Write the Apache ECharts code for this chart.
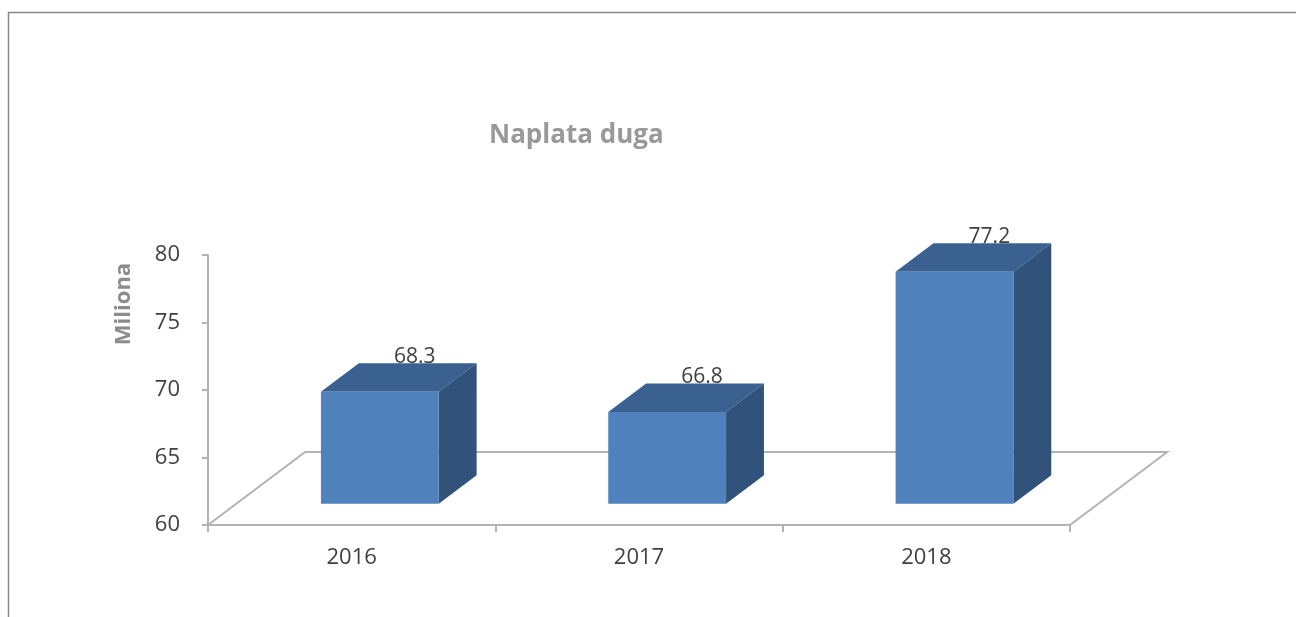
<!DOCTYPE html>
<html>
<head>
<meta charset="utf-8">
<script src="https://cdn.jsdelivr.net/npm/echarts@6/dist/echarts.min.js"></script>
<style>
  html, body { margin: 0; padding: 0; background: #fff; }
  #chart { width: 1296px; height: 617px; }
</style>
</head>
<body>
<div id="chart"></div>
<script>
// data
var years = ["2016", "2017", "2018"];
var naplata = [68.3, 66.8, 77.2];
var yTicks = { min: 60, max: 80, step: 5 };

var FONT = "'Open Sans', 'Liberation Sans', sans-serif";

// 3D look (fractions of a category band)
var FLOOR_DX = 0.338;  // depth of floor, horizontal
var FLOOR_DY = 0.254;  // depth of floor, vertical
var BAR_FRONT = 0.29;  // where bar front sits in depth
var BAR_DEPTH = 0.39;  // how deep a bar is
var BAR_W = 0.41;      // bar width in band

var chart = echarts.init(document.getElementById("chart"));

function floorItem(params, api) {
  var cs = params.coordSys;
  var band = api.size([1, 0])[0];
  var dx = band * FLOOR_DX, dy = band * FLOOR_DY;
  var x0 = cs.x, x1 = cs.x + cs.width, yb = cs.y + cs.height;
  return {
    type: "polyline",
    shape: { points: [[x0, yb], [x0 + dx, yb - dy], [x1 + dx, yb - dy], [x1, yb]] },
    style: { stroke: "#b3b3b3", lineWidth: 2, fill: null }
  };
}

function barItem(params, api) {
  var band = api.size([1, 0])[0];
  var fdx = band * FLOOR_DX, fdy = band * FLOOR_DY;
  var ox = fdx * BAR_FRONT, oy = fdy * BAR_FRONT;
  var sx = fdx * BAR_DEPTH, sy = fdy * BAR_DEPTH;
  var top = api.coord([api.value(0), api.value(1)]);
  var base = api.coord([api.value(0), yTicks.min]);
  var w = band * BAR_W;
  var xl = top[0] - w / 2 + ox, xr = top[0] + w / 2 + ox;
  var yt = top[1] - oy, yb = base[1] - oy;
  return {
    type: "group",
    children: [
      { type: "polygon", shape: { points: [[xl, yt], [xl + sx, yt - sy], [xr + sx, yt - sy], [xr, yt]] },
        style: { fill: "#3b6190" } },
      { type: "polygon", shape: { points: [[xr, yt], [xr + sx, yt - sy], [xr + sx, yb - sy], [xr, yb]] },
        style: { fill: "#31527a" } },
      { type: "rect", shape: { x: xl, y: yt, width: xr - xl, height: yb - yt },
        style: { fill: "#4f81bd" } },
      { type: "text", z2: 10,
        style: { text: api.value(1).toFixed(1), x: (xl + xr) / 2 + sx - 3, y: yt - sy + 4,
                 align: "center", verticalAlign: "bottom", fill: "#404040",
                 font: "21px " + FONT } }
    ]
  };
}

var option = {
  animation: false,
  backgroundColor: "#fff",
  title: {
    text: "Naplata duga",
    left: 484,
    top: 118,
    textStyle: { color: "#999999", fontSize: 26, fontWeight: "bold", fontFamily: FONT }
  },
  graphic: [{
    type: "rect",
    shape: { x: 8.5, y: 12.5, width: 1400, height: 700 },
    style: { fill: null, stroke: "#888888", lineWidth: 1.5 }
  }, {
    type: "text",
    x: 124, y: 304, rotation: Math.PI / 2,
    style: { text: "Miliona", align: "center", verticalAlign: "middle",
             fill: "#8c8c8c", font: "bold 22px " + FONT }
  }],
  grid: { left: 208, right: 226, top: 255, bottom: 92 },
  xAxis: {
    type: "category",
    data: years,
    boundaryGap: true,
    axisLine: { lineStyle: { color: "#b3b3b3", width: 2 } },
    axisTick: { show: true, length: 7, lineStyle: { color: "#b3b3b3", width: 2 } },
    axisLabel: { color: "#404040", fontSize: 22, fontFamily: FONT, margin: 22 }
  },
  yAxis: {
    type: "value",
    min: yTicks.min,
    max: yTicks.max,
    interval: yTicks.step,
    axisLine: { show: true, lineStyle: { color: "#b3b3b3", width: 2 } },
    axisTick: { show: true, length: 6, lineStyle: { color: "#b3b3b3", width: 2 } },
    axisLabel: { color: "#404040", fontSize: 22, fontFamily: FONT, margin: 28 },
    splitLine: { show: false }
  },
  series: [
    { type: "custom", name: "floor", renderItem: floorItem, data: [[0]], z: 1, silent: true },
    { type: "custom", name: "Naplata duga", renderItem: barItem,
      data: years.map(function (y, i) { return [i, naplata[i]]; }), z: 3,
      encode: { x: 0, y: 1 } }
  ]
};

chart.setOption(option);
</script>
</body>
</html>
